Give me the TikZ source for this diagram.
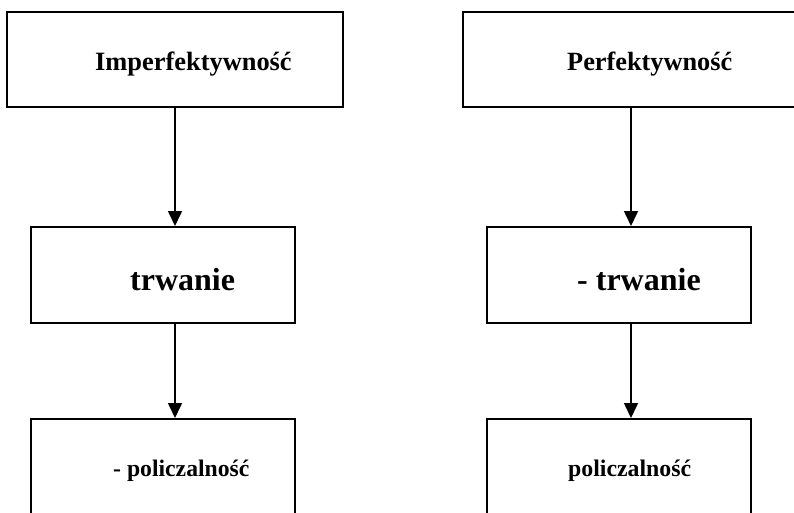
\documentclass[tikz,border=0pt]{standalone}
\usepackage{fontspec}
\setmainfont{Liberation Serif}
\usetikzlibrary{arrows.meta}
\begin{document}
\begin{tikzpicture}[x=1pt,y=-1pt,
  box/.style={draw,line width=2pt,minimum width=#1,minimum height=96pt,inner sep=0pt},
  box/.default=264pt,
  lbl/.style={anchor=base west,inner sep=0pt,font=\bfseries},
  arr/.style={line width=1.6pt,-{Triangle[width=14pt,length=15pt]}}]
\useasboundingbox (0,0) rectangle (794,513);
\clip (0,0) rectangle (794,513);
% boxes
\node[box=336pt,minimum height=95pt] (b1) at (175,59.5) {};
\node[box=336pt,minimum height=95pt] (b2) at (631,59.5) {};
\node[box] (b3) at (163,275) {};
\node[box] (b4) at (619,275) {};
\node[box] (b5) at (163,467) {};
\node[box] (b6) at (619,467) {};
% labels
\node[lbl,font=\fontsize{26.4}{30}\selectfont\bfseries] (t1) at (95,70.5) {Imperfektywność};
\node[lbl,font=\fontsize{26.3}{30}\selectfont\bfseries] (t2) at (567,70.5) {Perfektywność};
\node[lbl,font=\fontsize{32}{36}\selectfont\bfseries] (t3) at (130,290) {trwanie};
\node[lbl,font=\fontsize{32}{36}\selectfont\bfseries] (t4) at (577,290) {- trwanie};
\node[lbl,font=\fontsize{23.7}{28}\selectfont\bfseries] (t5) at (113,476) {- policzalność};
\node[lbl,font=\fontsize{23.8}{28}\selectfont\bfseries] (t6) at (568,476) {policzalność};
% arrows
\draw[arr] (b1.south) -- (b1.south |- b3.north);
\draw[arr] (b1.south |- b3.south) -- (b1.south |- b5.north);
\draw[arr] (b2.south) -- (b2.south |- b4.north);
\draw[arr] (b2.south |- b4.south) -- (b2.south |- b6.north);
\end{tikzpicture}
\end{document}
